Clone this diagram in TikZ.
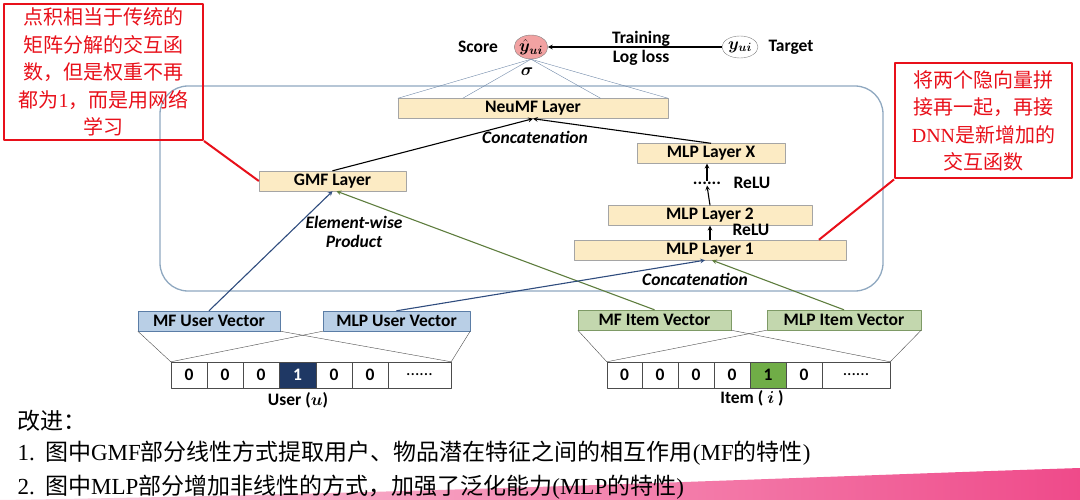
\documentclass[tikz,border=0pt]{standalone}
\usepackage{fontspec}
\usepackage{bm}
\setmainfont{Carlito}
\newfontfamily\cjk{Noto Sans CJK SC}
\newfontfamily\tnr{Liberation Serif}
\usetikzlibrary{calc,shapes.geometric}
\definecolor{layerfill}{HTML}{FCEBC4}
\definecolor{layerline}{HTML}{A5A5A5}
\definecolor{userfill}{HTML}{B9CFE6}
\definecolor{userline}{HTML}{5B7DA6}
\definecolor{itemfill}{HTML}{C3D7AE}
\definecolor{itemline}{HTML}{7E9A66}
\definecolor{userdark}{HTML}{1F3864}
\definecolor{itemgreen}{HTML}{70AD47}
\definecolor{frameline}{HTML}{8FA8C0}
\definecolor{fanline}{HTML}{6F88A8}
\definecolor{userarrow}{HTML}{2F4C7E}
\definecolor{itemarrow}{HTML}{5E7D3E}
\definecolor{scorepink}{HTML}{F2A2A2}
\definecolor{notered}{HTML}{E8101A}
\definecolor{bandpink}{HTML}{EF4A8A}
\definecolor{bandlight}{HTML}{FBD3E1}
\begin{document}
\begin{tikzpicture}[x=1pt,y=-1pt,line join=round,>=stealth,font=\fontsize{17.5}{19}\selectfont\bfseries]
    \tikzset{layer/.style={draw=layerline,fill=layerfill,inner sep=0pt,minimum height=20pt},
        uvec/.style={draw=userline,fill=userfill,inner sep=0pt,minimum height=20pt},
        ivec/.style={draw=itemline,fill=itemfill,inner sep=0pt,minimum height=20pt},
        cell/.style={draw=black!70,fill=white,inner sep=0pt,minimum height=26pt},
        uone/.style={cell,fill=userdark,text=white},
        ione/.style={cell,fill=itemgreen},
        ital/.style={font=\fontsize{17.5}{19}\selectfont\bfseries\itshape},
        note/.style={draw=notered,line width=2pt,text=notered,align=center,inner xsep=2pt,inner ysep=0pt,font=\cjk\fontsize{20}{27.5}\selectfont},
        remark/.style={anchor=west,font=\cjk\fontsize{23}{28}\selectfont},
        redline/.style={draw=notered,line width=2pt},
        thinarrow/.style={->,line width=1.1pt}}
    \useasboundingbox (0,0) rectangle (1080,500);
    \shade[left color=bandlight,right color=bandpink] (0,500) .. controls (450,493) and (800,477) .. (1080,468) -- (1080,500) -- cycle;
    \draw[frameline,line width=1.3pt,rounded corners=28pt] (160,86) rectangle (883,291);
    % output
    \node[ellipse,draw=gray,fill=scorepink,minimum width=32pt,minimum height=24pt,inner sep=0pt] (score) at (531,47) {$\hat{\bm{y}}_{\bm{ui}}$};
    \node[ellipse,draw=gray,fill=white,minimum width=36pt,minimum height=22pt,inner sep=0pt] (target) at (740,47) {$\bm{y}_{\bm{ui}}$};
    \node (scorelabel) at (478,47) {Score};
    \node (targetlabel) at (791,47) {Target};
    \node[align=center] (training) at (641,48) {Training\\Log loss};
    \node (sigma) at (527,72) {$\bm{\sigma}$};
    \draw[thinarrow] (target) -- (score);
    % layers
    \node[layer,minimum width=270pt] (neumf) at (533,108.5) {NeuMF Layer};
    \node[layer,minimum width=147pt] (gmf) at (332.5,181) {GMF Layer};
    \node[layer,minimum width=148pt] (mlpx) at (711,153.5) {MLP Layer X};
    \node[layer,minimum width=204pt] (mlp2) at (710,215.5) {MLP Layer 2};
    \node[layer,minimum width=272pt] (mlp1) at (710,250) {MLP Layer 1};
    \node[inner sep=1pt] (dots) at (707,183) {......};
    \node (relutop) at (752,183) {ReLU};
    \node (relubot) at (751,230) {ReLU};
    \node[ital] (concattop) at (535,137) {Concatenation};
    \node[ital] (concatbot) at (695,279) {Concatenation};
    \node[ital,align=center] (product) at (354,232) {Element-wise\\Product};
    \foreach \f in {0,0.24,0.75,1}
        \draw[fanline] ($(neumf.north west)!\f!(neumf.north east)$) -- (score.south);
    \draw[thinarrow] (gmf.north) -- (neumf.south);
    \draw[thinarrow] (mlpx.north) -- (neumf.south);
    \draw[thinarrow] (mlp1.north) -- (mlp2.south);
    \draw[thinarrow] (mlp2.north) -- (dots.south);
    \draw[thinarrow] (dots.north) -- (dots.north |- mlpx.south);
    % embeddings
    \node[uvec,minimum width=142pt] (mfuser) at (209,321) {MF User Vector};
    \node[uvec,minimum width=147pt] (mlpuser) at (396.5,321) {MLP User Vector};
    \node[ivec,minimum width=153pt] (mfitem) at (654.5,320) {MF Item Vector};
    \node[ivec,minimum width=154pt] (mlpitem) at (844,320) {MLP Item Vector};
    \draw[thinarrow,userarrow] (mfuser.north) -- (gmf.south);
    \draw[thinarrow,itemarrow] (mfitem.north) -- ($(gmf.south)+(4,0)$);
    \draw[thinarrow,userarrow] (mlpuser.north) -- ($(mlp1.south)+(-5,0)$);
    \draw[thinarrow,itemarrow] (mlpitem.north) -- ($(mlp1.south)+(2,0)$);
    % one-hot inputs
    \foreach \a/\b/\t/\s [count=\k] in {171/207/0/cell,207/243/0/cell,243/279/0/cell,279/316/1/uone,316/352/0/cell,352/388/0/cell,388/451/{\normalfont ......}/cell}
        \node[\s,minimum width=\b pt-\a pt] (u\k) at ({(\a+\b)/2},375) {\t};
    \foreach \a/\b/\t/\s [count=\k] in {607/642/0/cell,642/678/0/cell,678/714/0/cell,714/750/0/cell,750/786/1/ione,786/822/0/cell,822/890/{\normalfont ......}/cell}
        \node[\s,minimum width=\b pt-\a pt] (i\k) at ({(\a+\b)/2},375) {\t};
    \node (userlabel) at (298,400) {User ($\bm{u}$)};
    \node (itemlabel) at (752,398) {Item ( $\bm{i}$ )};
    \foreach \v in {mfuser,mlpuser} {
        \draw[black!70] (\v.south west) -- (u1.north west);
        \draw[black!70] (\v.south east) -- (u7.north east);
    }
    \foreach \v in {mfitem,mlpitem} {
        \draw[black!70] (\v.south west) -- (i1.north west);
        \draw[black!70] (\v.south east) -- (i7.north east);
    }
    % remarks
    \node[note,minimum width=199pt,minimum height=136pt] (gmfnote) at (103.5,72) {点积相当于传统的\\矩阵分解的交互函\\数，但是权重不再\\都为{\tnr 1}，而是用网络\\学习};
    \node[note,minimum width=177pt,minimum height=115pt] (mlpnote) at (983.5,121) {将两个隐向量拼\\接再一起，再接\\{\tnr DNN}是新增加的\\交互函数};
    \draw[redline] (gmfnote.south east) -- (gmf.west);
    \draw[redline] (mlpnote.south west) -- ($(mlp1.north east)!0.1!(mlp1.north west)$);
    \node[remark] (improve) at (14,421) {改进：};
    \node[remark] (pointone) at (14,453) {{\tnr 1.}\ \ 图中{\tnr GMF}部分线性方式提取用户、物品潜在特征之间的相互作用{\tnr (MF}的特性{\tnr )}};
    \node[remark] (pointtwo) at (14,487) {{\tnr 2.}\ \ 图中{\tnr MLP}部分增加非线性的方式，加强了泛化能力{\tnr (MLP}的特性{\tnr )}};
\end{tikzpicture}
\end{document}
